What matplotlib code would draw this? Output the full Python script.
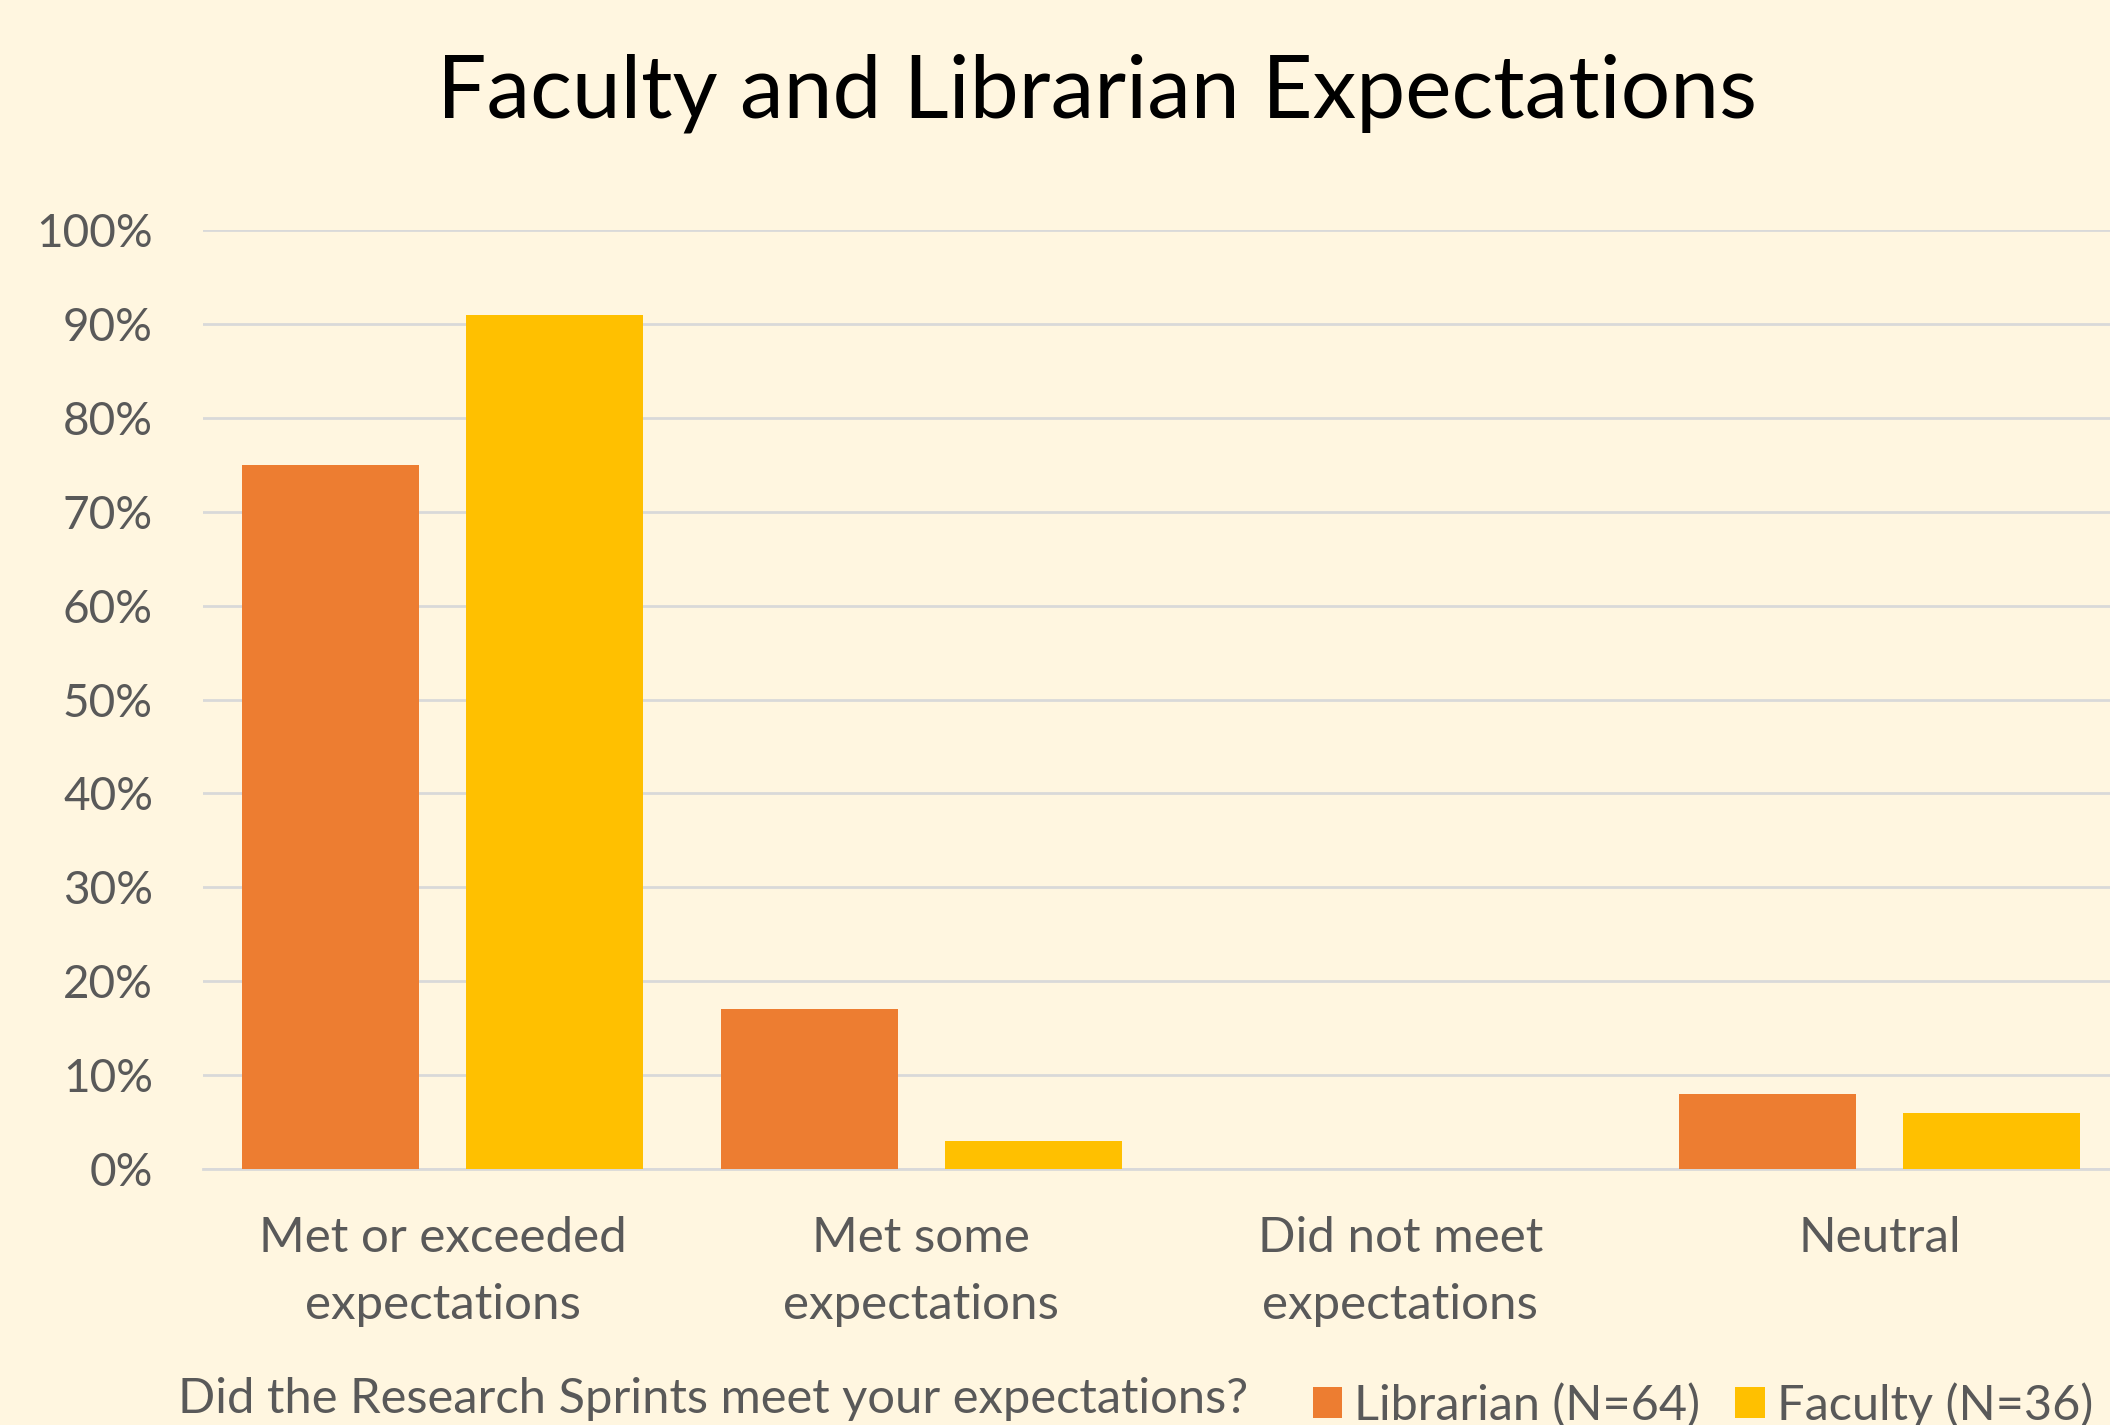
import matplotlib.pyplot as plt
import numpy as np
from matplotlib.ticker import PercentFormatter

# data
categories = ["Met or exceeded\nexpectations", "Met some\nexpectations",
              "Did not meet\nexpectations", "Neutral"]
librarian = [0.75, 0.17, 0.0, 0.08]
faculty = [0.91, 0.03, 0.0, 0.06]
series_names = ["Librarian (N=64)", "Faculty (N=36)"]
yticks = np.arange(0, 1.01, 0.1)

bg = "#FFF6E0"
grey = "#595959"
plt.rcParams['font.family'] = ['Lato', 'DejaVu Sans']

fig = plt.figure(figsize=(21.1, 14.25), dpi=100, facecolor=bg)
ax = fig.add_axes([0.0962, 0.1796, 0.908, 0.659])
ax.set_facecolor(bg)

x = np.arange(len(categories))
w = 0.37
ax.bar(x - 0.234, librarian, w, color="#ED7D31", label=series_names[0], zorder=3)
ax.bar(x + 0.234, faculty, w, color="#FFC000", label=series_names[1], zorder=3)

ax.set_xlim(-0.5, len(categories) - 0.5)
ax.set_ylim(0, 1)
ax.set_yticks(yticks)
ax.yaxis.set_major_formatter(PercentFormatter(1.0, decimals=0))
ax.set_xticks(x)
ax.set_xticklabels(categories, linespacing=1.62)
ax.tick_params(axis='y', length=0, pad=36, labelsize=33, labelcolor=grey)
ax.tick_params(axis='x', length=0, pad=34, labelsize=35.5, labelcolor=grey)
ax.grid(axis='y', color="#D9D9D9", linewidth=2, zorder=0)
for s in ["top", "right", "left"]:
    ax.spines[s].set_visible(False)
ax.spines["bottom"].set_color("#D9D9D9")
ax.spines["bottom"].set_linewidth(2)

ax.set_title("Faculty and Librarian Expectations", fontsize=63, color="black",
             x=0.4666, pad=81)
ax.set_xlabel("Did the Research Sprints meet your expectations?", fontsize=35.2, color=grey)
ax.xaxis.set_label_coords(0.266, -0.221)

fig.legend(loc="center left", bbox_to_anchor=(1313 / 2110, 1 - 1405 / 1425),
           ncol=2, frameon=False, fontsize=35, labelcolor=grey,
           handlelength=0.6, handleheight=0.6, handletextpad=0.25,
           columnspacing=0.72, borderpad=0, borderaxespad=0)

fig.savefig("out.png", dpi=100, facecolor=bg)
